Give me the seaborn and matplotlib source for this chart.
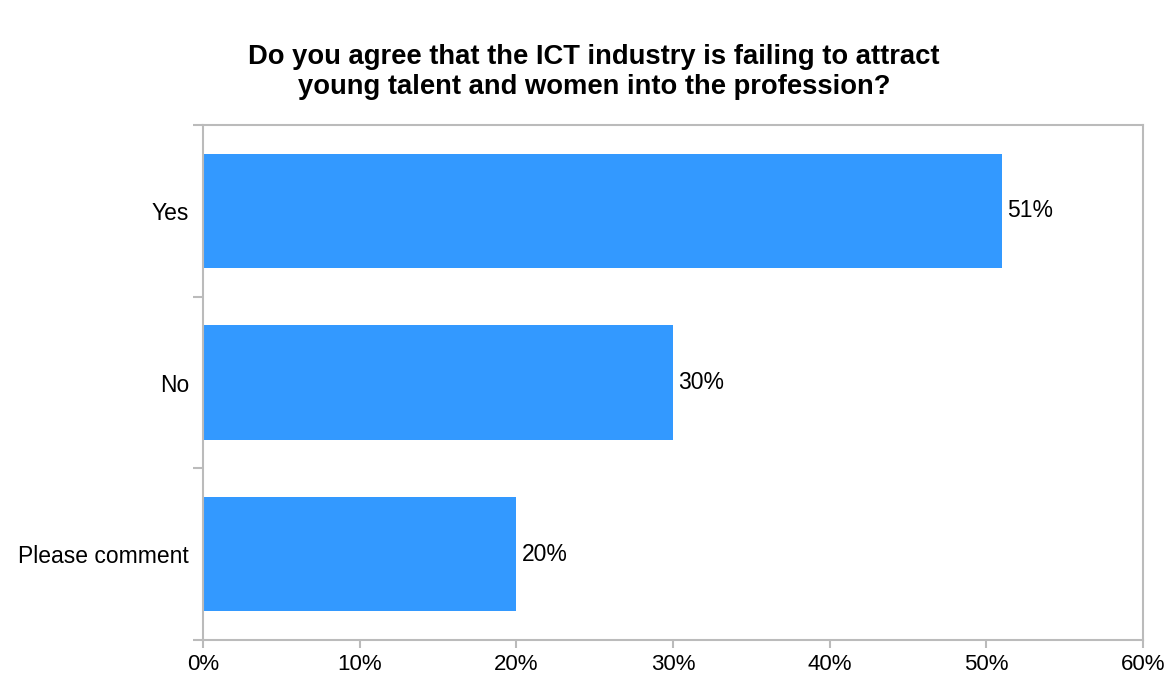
import matplotlib
matplotlib.use("Agg")
import matplotlib.pyplot as plt
from matplotlib.ticker import FixedLocator
import seaborn as sns
import pandas as pd

categories = ["Yes", "No", "Please comment"]
shares = [51, 30, 20]
x_ticks = [0, 10, 20, 30, 40, 50, 60]
x_tick_labels = ["0%", "10%", "20%", "30%", "40%", "50%", "60%"]
title = "Do you agree that the ICT industry is failing to attract\nyoung talent and women into the profession?"

sns.set_theme(style="white")
plt.rcParams["font.family"] = ["Liberation Sans", "DejaVu Sans"]

df = pd.DataFrame({"answer": categories, "share": shares})

fig = plt.figure(figsize=(11.69, 6.77), dpi=100)
ax = fig.add_axes([203 / 1169, 37 / 677, 940 / 1169, 515 / 677])

sns.barplot(data=df, x="share", y="answer", orient="h", color="#3399FF",
            saturation=1, width=0.667, ax=ax, edgecolor="none")

ax.set_xlim(0, 60)
ax.set_ylim(2.5, -0.5)
ax.set_xlabel("")
ax.set_ylabel("")

frame_color = "#BBBBBB"
for side in ["top", "right", "left", "bottom"]:
    ax.spines[side].set_visible(True)
    ax.spines[side].set_color(frame_color)
    ax.spines[side].set_linewidth(1.5)

ax.set_xticks(x_ticks)
ax.set_xticklabels(x_tick_labels, fontsize=16, color="black")
ax.tick_params(axis="x", length=6, width=1.5, color=frame_color, direction="out",
               bottom=True, pad=4)

ax.set_yticks(range(len(categories)))
ax.set_yticklabels(categories, fontsize=16.5, color="black")
ax.tick_params(axis="y", which="major", length=0, pad=10)
ax.yaxis.set_minor_locator(FixedLocator([-0.5, 0.5, 1.5, 2.5]))
ax.tick_params(axis="y", which="minor", length=7, width=1.5, color=frame_color,
               direction="out", left=True)

for i, v in enumerate(shares):
    ax.annotate(f"{v:.0f}%", xy=(v, i), xytext=(4, 0), textcoords="offset points",
                ha="left", va="center", fontsize=16.5, color="black")

fig.text(594 / 1169, 1 - 72 / 677, title, ha="center", va="center",
         fontsize=19.7, fontweight="bold", linespacing=1.2, color="black")

fig.savefig("out.png", dpi=100, facecolor="white")
